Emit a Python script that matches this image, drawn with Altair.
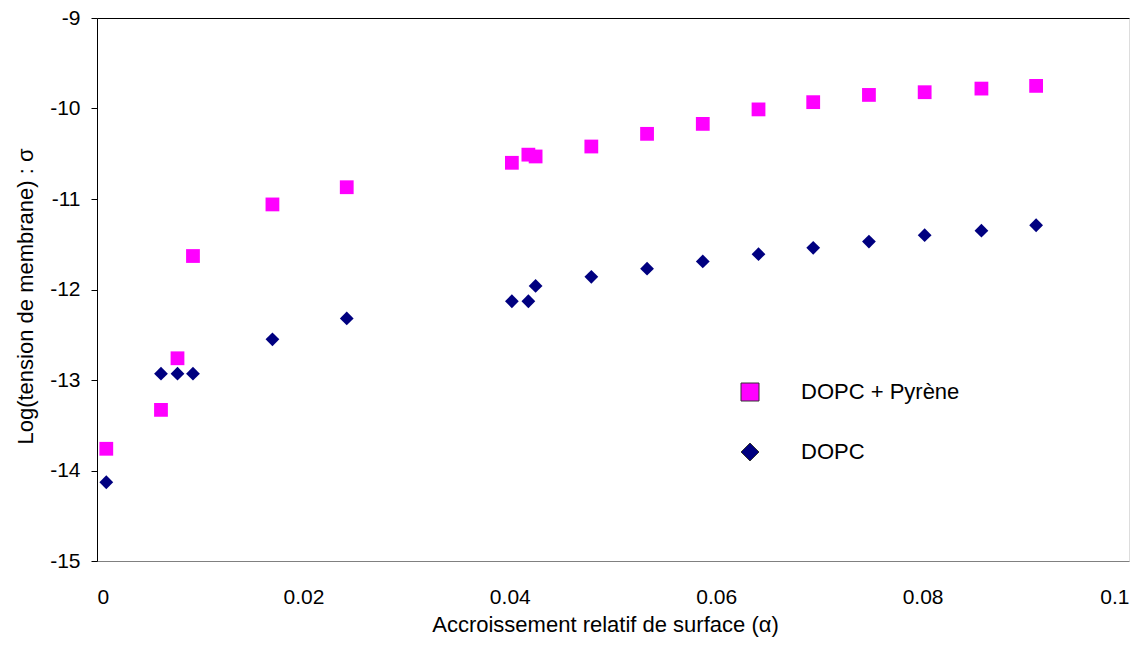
import altair as alt
import pandas as pd

alpha = [0.0009, 0.0062, 0.0078, 0.0093, 0.0170, 0.0242, 0.0402, 0.0418, 0.0425,
         0.0479, 0.0533, 0.0587, 0.0641, 0.0694, 0.0748, 0.0802, 0.0857, 0.0910]
pyrene = [-13.76, -13.33, -12.76, -11.63, -11.06, -10.87, -10.60, -10.51, -10.53,
          -10.42, -10.28, -10.17, -10.01, -9.93, -9.85, -9.82, -9.78, -9.75]
dopc = [-14.13, -12.93, -12.93, -12.93, -12.55, -12.32, -12.13, -12.13, -11.96,
        -11.86, -11.77, -11.69, -11.61, -11.54, -11.47, -11.40, -11.35, -11.29]
series = ["DOPC + Pyrène", "DOPC"]
x_ticks = [0, 0.02, 0.04, 0.06, 0.08, 0.1]
y_ticks = [-15, -14, -13, -12, -11, -10, -9]

rows = []
for a, v in zip(alpha, pyrene):
    rows.append({"alpha": a, "sigma": v, "serie": series[0]})
for a, v in zip(alpha, dopc):
    rows.append({"alpha": a, "sigma": v, "serie": series[1]})
df = pd.DataFrame(rows)

FONT = "Liberation Sans"

xscale = alt.Scale(domain=[0, 0.1], nice=False, zero=False)
yscale = alt.Scale(domain=[-15, -9], nice=False, zero=False)

legend = alt.Legend(orient="none", legendX=642, legendY=363,
                    title=None, symbolSize=324,
                    symbolStrokeColor="#333333", symbolStrokeWidth=1,
                    labelFont=FONT, labelFontSize=22, labelColor="#000000",
                    labelOffset=40, rowPadding=38, padding=0)

points = alt.Chart(df).mark_point(filled=True, opacity=1, size=190).encode(
    x=alt.X("alpha:Q", scale=xscale,
            axis=alt.Axis(values=x_ticks, labelExpr="'' + datum.value",
                          title="Accroissement relatif de surface (α)",
                          labelFont=FONT, labelFontSize=21, labelColor="#000000",
                          ticks=False, tickSize=0, labelPadding=25,
                          domainColor="#808080", grid=False,
                          titleFont=FONT, titleColor="#000000",
                          titleX=508, titleY=70, titleBaseline="alphabetic",
                          titleFontSize=22, titleFontWeight="normal")),
    y=alt.Y("sigma:Q", scale=yscale,
            axis=alt.Axis(values=y_ticks, labelExpr="'' + datum.value",
                          title="Log(tension de membrane) : σ",
                          labelFont=FONT, labelFontSize=21, labelColor="#000000",
                          tickSize=6, tickColor="#000000", labelPadding=11,
                          domainColor="#000000", grid=False,
                          titleFont=FONT, titleColor="#000000",
                          titleX=-65, titleY=278, titleBaseline="alphabetic",
                          titleAngle=-90, titleAlign="center",
                          titleFontSize=22, titleFontWeight="normal")),
    color=alt.Color("serie:N",
                    scale=alt.Scale(domain=series, range=["#FF00FF", "#000080"]),
                    legend=legend),
    shape=alt.Shape("serie:N",
                    scale=alt.Scale(domain=series, range=["square", "diamond"]),
                    legend=legend),
)

top_line = alt.Chart(df).mark_point(opacity=0).encode(
    x=alt.X("alpha:Q", scale=xscale,
            axis=alt.Axis(orient="top", labels=False, ticks=False, title=None,
                          domainColor="#000000", grid=False)),
    y=alt.Y("sigma:Q", scale=yscale),
)

chart = alt.layer(points, top_line).resolve_axis(x="independent").properties(
    width=1032, height=543,
    autosize=alt.AutoSizeParams(type="none"),
    padding={"left": 89, "top": 10, "right": 8, "bottom": 78},
).configure_view(stroke="#808080", strokeWidth=1).configure_axis(
    domainWidth=1,
).configure(
    font=FONT, background="#ffffff"
)

chart.save("out.html", embed_options={"renderer": "svg", "actions": False})
